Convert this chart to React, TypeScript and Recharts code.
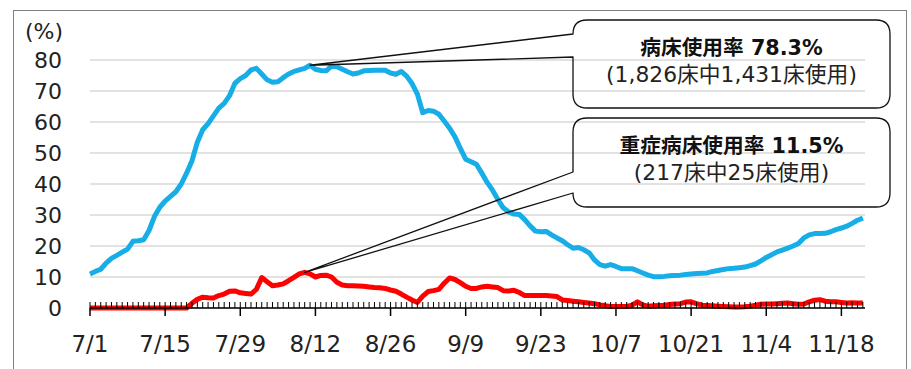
import React from "react";
import { LineChart, Line, XAxis, YAxis, CartesianGrid, ReferenceDot } from "recharts";

// daily values from 7/1 to 11/22 (145 days)
const bedRate = [
  11.0, 11.8, 12.5, 14.5, 16.0, 17.0, 18.0, 19.0, 21.5, 21.7,
  22.0, 25.0, 29.5, 32.5, 34.5, 36.0, 37.5, 40.0, 43.5, 47.5,
  53.5, 57.5, 59.5, 62.0, 64.5, 66.0, 68.5, 72.5, 74.0, 75.0,
  76.8, 77.3, 75.5, 73.6, 72.8, 73.0, 74.3, 75.5, 76.3, 76.8,
  77.3, 78.3, 77.0, 76.6, 76.5, 78.0, 77.8, 77.0, 76.2, 75.5,
  75.8, 76.5, 76.6, 76.7, 76.7, 76.7, 75.8, 75.4, 76.3, 74.8,
  72.4, 69.0, 63.0, 63.7, 63.5, 62.5, 60.3, 58.0, 55.2, 51.5,
  48.0, 47.2, 46.4, 43.5, 40.5, 38.0, 35.0, 32.3, 31.0, 30.3,
  30.2, 28.5, 26.5, 24.8, 24.6, 24.7, 23.6, 22.6, 21.7, 20.4,
  19.3, 19.5, 18.8, 17.8, 15.5, 14.0, 13.5, 14.0, 13.4, 12.7,
  12.7, 12.7, 12.0, 11.3, 10.6, 10.1, 10.1, 10.2, 10.4, 10.5,
  10.6, 10.8, 11.0, 11.1, 11.2, 11.3, 11.8, 12.1, 12.4, 12.7,
  12.8, 13.0, 13.2, 13.7, 14.2, 15.2, 16.3, 17.2, 18.1, 18.7,
  19.3, 20.0, 20.8, 22.6, 23.6, 24.0, 24.0, 24.1, 24.6, 25.3,
  25.8, 26.4, 27.3, 28.3, 29.0,
];

const severeRate = [
  0, 0, 0, 0, 0, 0, 0, 0, 0, 0,
  0, 0, 0, 0, 0, 0, 0, 0, 0, 1.5,
  2.8, 3.5, 3.3, 3.2, 4.0, 4.5, 5.4, 5.5, 4.9, 4.7,
  4.5, 6.0, 9.8, 8.5, 7.2, 7.4, 7.8, 8.8, 9.9, 11.0,
  11.5, 11.0, 10.0, 10.5, 10.6, 10.0, 8.3, 7.4, 7.2, 7.2,
  7.1, 7.0, 6.8, 6.6, 6.5, 6.3, 5.8, 5.4, 4.5, 3.5,
  2.6, 1.8, 3.8, 5.3, 5.6, 6.0, 8.0, 9.7, 9.2, 8.2,
  7.0, 6.3, 6.3, 6.8, 7.0, 6.8, 6.6, 5.6, 5.5, 5.7,
  5.0, 4.0, 4.0, 4.0, 4.0, 4.0, 3.9, 3.7, 2.6, 2.4,
  2.2, 2.0, 1.8, 1.6, 1.4, 1.0, 0.7, 0.5, 0.5, 0.5,
  0.5, 0.9, 2.0, 1.0, 0.6, 0.7, 0.8, 0.9, 1.1, 1.3,
  1.4, 1.9, 2.0, 1.4, 0.9, 0.8, 0.7, 0.6, 0.5, 0.4,
  0.3, 0.3, 0.4, 0.6, 0.9, 1.2, 1.3, 1.3, 1.4, 1.5,
  1.6, 1.4, 1.2, 1.3, 2.0, 2.5, 2.7, 2.2, 2.0, 2.0,
  1.8, 1.6, 1.7, 1.6, 1.6,
];

const dateTicks = [0, 14, 28, 42, 56, 70, 84, 98, 112, 126, 140];
const dateLabels = ["7/1", "7/15", "7/29", "8/12", "8/26", "9/9", "9/23", "10/7", "10/21", "11/4", "11/18"];
const yTicks = [0, 10, 20, 30, 40, 50, 60, 70, 80];

// callout anchors: day index + value the pointer lands on
const bedNote = { day: 41, value: 78.3, title: "病床使用率 78.3%", sub: "(1,826床中1,431床使用)" };
const severeNote = { day: 40, value: 11.5, title: "重症病床使用率 11.5%", sub: "(217床中25床使用)" };

const data = bedRate.map((v, i) => ({ day: i, bed: v, severe: severeRate[i] }));
const allDays = data.map((d) => d.day);

const FONT = "'DejaVu Sans', 'Noto Sans CJK JP', sans-serif";

type Box = { x: number; y: number; w: number; h: number; a1: number; a2: number };

/* eslint-disable @typescript-eslint/no-explicit-any */
function callout(box: Box, title: string, sub: string) {
  return (props: any) => {
    const { cx, cy } = props;
    const { x, y, w, h, a1, a2 } = box;
    const r = 14;
    const d = [
      `M${cx},${cy}`,
      `L${x},${a2}`,
      `L${x},${y + h - r}`,
      `Q${x},${y + h} ${x + r},${y + h}`,
      `L${x + w - r},${y + h}`,
      `Q${x + w},${y + h} ${x + w},${y + h - r}`,
      `L${x + w},${y + r}`,
      `Q${x + w},${y} ${x + w - r},${y}`,
      `L${x + r},${y}`,
      `Q${x},${y} ${x},${y + r}`,
      `L${x},${a1}`,
      "Z",
    ].join(" ");
    const mid = x + w / 2;
    return (
      <g>
        <path d={d} fill="none" stroke="#111" strokeWidth={1.3} strokeLinejoin="round" />
        <text x={mid} y={y + 35} textAnchor="middle" fontFamily={FONT} fontWeight="bold" fontSize={20.7} fill="#111">{title}</text>
        <text x={mid} y={y + 62} textAnchor="middle" fontFamily={FONT} fontSize={21.8} fill="#222">{sub}</text>
      </g>
    );
  };
}
/* eslint-enable @typescript-eslint/no-explicit-any */

export default function App() {
  return (
    <div style={{ position: "fixed", left: 0, top: 0, width: 911, height: 369, background: "#fff", overflow: "hidden" }}>
      <div style={{ position: "absolute", left: 13, top: 10, width: 892, height: 400, border: "1.5px solid #808080", borderBottom: "none" }} />
      <div style={{ position: "absolute", left: 25, top: 19, fontFamily: FONT, fontSize: 22, color: "#222" }}>(%)</div>
      <LineChart width={911} height={369} data={data} margin={{ top: 60, right: 46, bottom: 21, left: 0 }}>
        <CartesianGrid vertical={false} stroke="#d9d9d9" strokeWidth={1.5} />
        <XAxis
          dataKey="day"
          type="number"
          domain={[0, 144.4]}
          ticks={dateTicks}
          interval={0}
          tickFormatter={(v: number) => dateLabels[dateTicks.indexOf(v)]}
          height={40}
          tickSize={8}
          tickMargin={20}
          axisLine={{ stroke: "#000", strokeWidth: 1.5 }}
          tickLine={{ stroke: "#000", strokeWidth: 1.5 }}
          tick={{ fill: "#222", fontSize: 23, fontFamily: FONT }}
        />
        {/* daily minor ticks pointing up into the plot */}
        <XAxis
          xAxisId="minor"
          dataKey="day"
          type="number"
          domain={[0, 144.4]}
          ticks={allDays}
          interval={0}
          mirror
          height={1}
          tickSize={6}
          axisLine={false}
          tickLine={{ stroke: "#000", strokeWidth: 1 }}
          tick={() => <g />}
        />
        <YAxis
          domain={[0, 80]}
          ticks={yTicks}
          interval={0}
          width={90}
          axisLine={false}
          tickLine={false}
          tickSize={0}
          tickMargin={28}
          tick={{ fill: "#222", fontSize: 22, fontFamily: FONT }}
        />
        <Line dataKey="bed" type="linear" stroke="#17ADE6" strokeWidth={5} dot={false} strokeLinejoin="round" isAnimationActive={false} />
        <Line dataKey="severe" type="linear" stroke="#FF0000" strokeWidth={5} dot={false} strokeLinejoin="round" isAnimationActive={false} />
        <ReferenceDot
          x={bedNote.day}
          y={bedNote.value}
          ifOverflow="visible"
          shape={callout({ x: 573, y: 20, w: 317, h: 88, a1: 34, a2: 57 }, bedNote.title, bedNote.sub)}
        />
        <ReferenceDot
          x={severeNote.day}
          y={severeNote.value}
          ifOverflow="visible"
          shape={callout({ x: 573, y: 118, w: 317, h: 89, a1: 172, a2: 193 }, severeNote.title, severeNote.sub)}
        />
      </LineChart>
    </div>
  );
}
